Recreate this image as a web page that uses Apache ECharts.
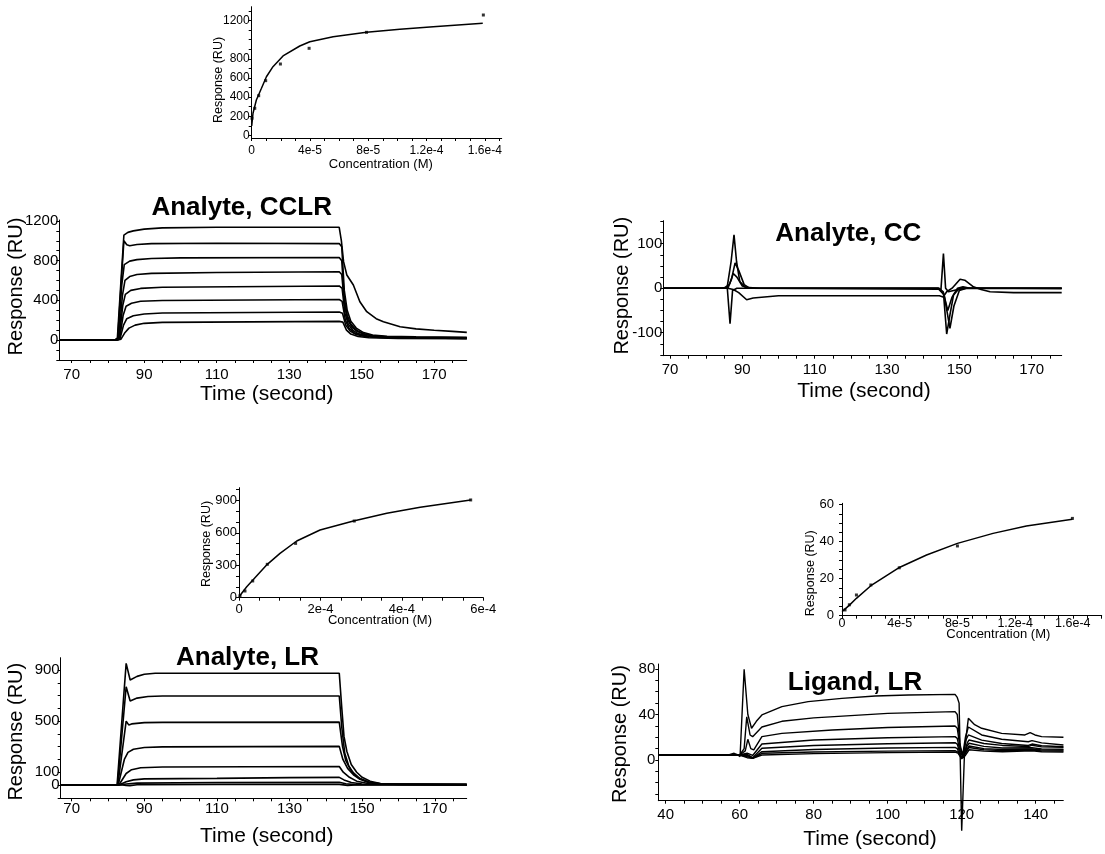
<!DOCTYPE html>
<html>
<head>
<meta charset="utf-8">
<title>SPR sensorgrams</title>
<script src="https://cdn.jsdelivr.net/npm/echarts@6/dist/echarts.min.js"></script>
<style>
  html, body { margin: 0; background: #fff; }
  #chart { width: 1105px; height: 854px; }
</style>
</head>
<body>
<div id="chart"></div>
<script>
// ---- binding isotherms (inset plots) ----
// CCLR isotherm: measured points + fitted curve
const cclrConc = [2e-7, 2.1e-6, 4.8e-6, 9.6e-6, 1.97e-5, 3.94e-5, 7.88e-5, 1.59e-4]
const cclrResp = [179, 283, 415, 572, 746, 910, 1077, 1258]
const cclrFitConc = [0, 9e-7, 3.2e-6, 6.7e-6, 1.01e-5, 1.46e-5, 2.15e-5, 3.3e-5, 3.99e-5, 5.59e-5, 7.88e-5, 1.017e-4, 1.246e-4, 1.586e-4]
const cclrFitResp = [100, 231, 370, 492, 613, 718, 830, 934, 979, 1031, 1077, 1109, 1136, 1171]

// Analyte LR isotherm
const lrConc = [2.5e-6, 1.47e-5, 3.37e-5, 6.95e-5, 1.39e-4, 2.83e-4, 5.69e-4]
const lrResp = [19, 62, 155, 309, 503, 710, 905]
const lrFitConc = [0, 1.9e-5, 6.95e-5, 1.007e-4, 1.418e-4, 1.99e-4, 2.81e-4, 3.63e-4, 4.45e-4, 5.69e-4]
const lrFitResp = [9, 102, 309, 411, 525, 627, 710, 781, 837, 905]

// Ligand LR isotherm
const ligConc = [2.1e-6, 5.1e-6, 1.0e-5, 2.0e-5, 3.97e-5, 8.0e-5, 1.597e-4]
const ligResp = [3.1, 5.9, 11.2, 16.6, 25.9, 37.7, 52.6]
const ligFitConc = [0, 5e-6, 1e-5, 2e-5, 4.01e-5, 5.86e-5, 8.0e-5, 1.047e-4, 1.278e-4, 1.597e-4]
const ligFitResp = [2.2, 5.6, 9.4, 16.2, 26.2, 32.8, 39.1, 44.5, 48.5, 52.1]

// ---- sensorgrams: [time (s), response (RU)] ----
const cclr1 = [[66.6,0],[82,0],[82.6,20],[83.6,600],[84.4,1058],[85.5,1085],[87,1100],[90,1118],[95,1130],[110,1136],[130,1136],[143.8,1136],[144.4,1000],[145,790],[145.9,655],[147.7,554],[149.5,386],[151.4,285],[154,215],[156,185],[160.6,134],[165,112],[170,99],[175,87],[179,77]]
const cclr2 = [[66.6,0],[82,0],[82.7,20],[83.7,600],[84.4,1000],[85.2,960],[86,950],[88,962],[92,972],[110,975],[143.8,972],[144.5,940],[145.2,500],[146,300],[147,190],[148.5,120],[150.5,75],[153,50],[157,38],[165,32],[179,28]]
const cclr3 = [[66.6,0],[82,0],[82.8,20],[83.8,550],[84.5,760],[86,795],[88,810],[92,822],[100,828],[143.8,832],[144.5,800],[145.2,420],[146,250],[147,160],[148.5,100],[150.5,62],[153,42],[157,30],[165,24],[179,20]]
const cclr4 = [[66.6,0],[82.2,0],[83,20],[84,450],[84.7,600],[86,640],[88,660],[92,672],[110,680],[143.8,688],[144.5,660],[145.3,340],[146.2,200],[147.3,130],[148.8,85],[151,55],[154,38],[160,28],[179,22]]
const cclr5 = [[66.6,0],[82.3,0],[83.1,15],[84.1,350],[84.8,460],[86.3,500],[89,520],[95,532],[143.8,545],[144.6,520],[145.4,270],[146.3,160],[147.5,100],[149,65],[151.5,40],[155,28],[179,18]]
const cclr6 = [[66.6,0],[82.4,0],[83.2,10],[84.2,250],[85,340],[86.5,370],[89,390],[95,398],[143.8,408],[144.6,390],[145.5,200],[146.5,120],[148,70],[150,45],[153,30],[160,22],[179,16]]
const cclr7 = [[66.6,0],[82.5,0],[83.3,10],[84.3,150],[85.2,215],[87,245],[90,262],[95,272],[143.8,282],[144.7,270],[145.6,150],[146.8,90],[148.5,55],[151,35],[155,25],[179,15]]
const cclr8 = [[66.6,0],[82.7,0],[83.6,8],[84.6,70],[85.8,120],[87.5,150],[90,168],[95,178],[143.8,188],[144.8,180],[145.8,100],[147,60],[149,35],[152,22],[160,15],[179,12]]

const cc1 = [[68.2,0],[84,0],[85.8,2],[86.9,60],[87.7,120],[88.4,60],[89.3,15],[90.8,2],[95,0],[144.3,0],[144.9,-5],[145.6,78],[146.2,0],[147,-8],[149,-4],[152,0],[178.3,0]]
const cc2 = [[68.2,0],[85,0],[85.8,5],[86.6,-80],[87.3,-5],[88.5,0],[144.3,0],[145.6,-10],[146.5,-103],[147.4,-60],[148.4,-15],[150,0],[178.3,0]]
const cc3 = [[68.2,0],[86,0],[87,20],[88,57],[89,40],[90.5,8],[92,0],[144.3,-2],[145.8,-15],[147.4,-90],[148.5,-40],[150,-5],[152,0],[178.3,-1]]
const cc4 = [[68.2,0],[85.5,0],[86.5,10],[87.5,33],[88.5,25],[90,5],[92,0],[144,0],[145.5,-8],[146.8,-50],[148,-20],[149.5,0],[151,3],[153,0],[178.3,0]]
const cc5 = [[68.2,0],[86,0],[87.5,-3],[89,-10],[91.2,-26],[93,-22],[100,-17],[144.5,-17],[145.5,-20],[146.5,-8],[148,0],[150.2,20],[151.5,18],[153.9,3],[156,-3],[158.5,-8],[165,-10],[178.3,-10]]

const lr1 = [[67,0],[82.5,0],[85,952],[86.1,822],[88,850],[90,866],[93,874],[143.7,874],[144.4,600],[145,380],[145.8,262],[147,160],[148.5,100],[150,60],[152.2,30],[155,12],[160,5],[178.8,4]]
const lr2 = [[67,0],[82.6,0],[85,769],[86.1,657],[88,680],[91,692],[95,696],[143.7,696],[144.4,450],[145.2,250],[146.3,150],[147.6,95],[149.4,50],[152,20],[156,8],[178.8,4]]
const lr3 = [[67,0],[82.7,0],[85,500],[85.7,470],[86.5,478],[90,488],[95,490],[143.7,492],[144.6,300],[145.5,190],[147,110],[149,55],[152,20],[156,6],[178.8,3]]
const lr4 = [[67,0],[82.8,0],[84.5,200],[85.5,255],[87,280],[90,293],[95,298],[120,300],[143.7,302],[144.7,200],[146,130],[147.6,80],[149.4,45],[152,18],[156,6],[178.8,3]]
const lr5 = [[67,0],[83,0],[85,90],[86.5,120],[89,135],[95,141],[143.7,145],[144.8,100],[146.5,60],[148.5,30],[152,10],[178.8,3]]
const lr6 = [[67,0],[83,0],[85,25],[87,40],[90,48],[110,52],[130,58],[143.7,60],[145,40],[147,20],[150,8],[178.8,3]]
const lr7 = [[67,0],[83,0],[85,8],[88,15],[110,20],[143.7,22],[145.5,10],[148,3],[178.8,2]]
const lr8 = [[67,0],[84,0],[85,-3],[86,-5],[88,2],[110,5],[143.7,5],[146,-3],[148,0],[178.8,0]]

const lig1 = [[38,4.4],[57,4.4],[58.5,5.9],[59.5,4.4],[60.1,3],[61.2,79.7],[62.2,40],[63.2,27.9],[64.5,34],[66,39.6],[71.4,46.9],[78.5,51.3],[87.6,54.2],[96.6,56.3],[105.6,57.1],[118.2,57.7],[118.8,55],[119.3,50],[120,-62.2],[120.8,10],[121.8,36.6],[123.5,31],[125.4,27.9],[130.8,23.4],[137.1,22],[138.5,24],[139.8,22],[141.6,20.5],[147.5,20]]
const lig2 = [[38,4.4],[60,4.4],[61.2,10],[61.9,38],[62.8,22],[63.5,20.5],[66,29],[71.4,34],[80,37],[90,39],[100,41],[118.2,42.5],[118.8,40],[119.5,15],[120.2,3],[121,20],[121.8,29],[125.4,22],[130.8,18.2],[138,16],[139,17],[141.6,15],[147.5,13.2]]
const lig3 = [[38,4.4],[60,4.4],[61.5,8],[62.2,18.2],[63,10],[63.8,8.8],[66,20.5],[71.4,23.4],[85,26.4],[100,28.5],[118.2,29.9],[118.8,28],[119.5,12],[120.3,5],[121.2,18],[121.8,22],[125.4,17.5],[130.8,14.5],[138,12.8],[139,14],[141.6,12.5],[147.5,11.7]]
const lig4 = [[38,4.4],[60,4.4],[62,6],[63.5,4],[66,14.1],[80,17.6],[100,19.5],[118.2,20.5],[118.8,19],[119.5,8],[120.5,4],[121.5,15],[122,17.6],[126,14.5],[131,12.8],[138,11.8],[139,13],[141.6,11.5],[147.5,11.1]]
const lig5 = [[38,4.4],[60,4.4],[62,5],[63.5,2],[66,10.3],[80,12.8],[100,14.3],[118.2,15.2],[118.8,14],[119.5,6],[120.5,3],[121.5,12.5],[122,14.7],[126,12],[131,10.5],[139,10.8],[141.6,9.8],[147.5,9.4]]
const lig6 = [[38,4.4],[60,4.4],[62,4],[63.5,1.5],[66,7.3],[80,9.2],[100,10.5],[118.2,11.1],[118.8,10],[119.5,4],[120.5,2],[121.5,10],[122,12.3],[126,10],[131,9.2],[139,9.6],[141.6,8.9],[147.5,8.8]]
const lig7 = [[38,4.4],[60,4.4],[62,3],[63.5,1.5],[66,5.9],[80,7],[100,7.8],[118.2,8.2],[119,7],[120,2],[121,6],[122,11],[126,9],[131,8.2],[139,8.8],[141.6,8],[147.5,7.9]]
const lig8 = [[38,4.4],[60,4.4],[62,2],[63.5,1.5],[66,4.4],[80,5.6],[100,6.5],[118.2,7],[119,6],[120,1],[121,4],[122,9],[126,7.8],[131,7.2],[139,8],[141.6,7.2],[147.5,7]]

// ---- tick labels ----
const isoXLabels = [0, 4e-5, 8e-5, 1.2e-4, 1.6e-4]
const lrIsoXLabels = [0, 2e-4, 4e-4, 6e-4]
const timeLabels = [70, 90, 110, 130, 150, 170]
const ligTimeLabels = [40, 60, 80, 100, 120, 140]
const cclrIsoYLabels = [0, 200, 400, 600, 800, 1200]
const cclrYLabels = [0, 400, 800, 1200]
const ccYLabels = [-100, 0, 100]
const lrIsoYLabels = [0, 300, 600, 900]
const lrYLabels = [0, 100, 500, 900]
const ligIsoYLabels = [0, 20, 40, 60]
const ligYLabels = [0, 40, 80]

const FONT = '"Liberation Sans", Arial, Helvetica, sans-serif'

// minor tick positions
function steps (a, b, d) {
  const out = []
  for (let i = 0; a + i * d <= b + d * 1e-6; i++) out.push(+(a + i * d).toPrecision(10))
  return out
}
function zip (xs, ys) {
  return xs.map((x, i) => [x, ys[i]])
}
function sci (v) {
  return v === 0 ? '0' : v.toExponential()
}

// plot areas (px), one per panel
const grids = [
  { left: 251.7, top: 6.7, width: 250, height: 131.3 },
  { left: 59.3, top: 220, width: 407.4, height: 140 },
  { left: 663.3, top: 220.7, width: 398.4, height: 135 },
  { left: 239, top: 487.7, width: 244.3, height: 110 },
  { left: 60.7, top: 657.7, width: 406, height: 140.6 },
  { left: 842, top: 503.3, width: 259.7, height: 112.4 },
  { left: 658.3, top: 664, width: 405, height: 136.7 }
].map(g => Object.assign({ containLabel: false, outerBoundsMode: 'none' }, g))

function axis (idx, min, max, labels, ticks, fontSize, margin, fmt) {
  return {
    type: 'value',
    gridIndex: idx,
    min: min,
    max: max,
    splitLine: { show: false },
    axisLine: { show: true, onZero: false, lineStyle: { color: '#000', width: 1 } },
    axisTick: { show: true, customValues: ticks, length: 3, lineStyle: { color: '#000', width: 1 } },
    axisLabel: {
      customValues: labels,
      hideOverlap: false,
      color: '#000',
      fontFamily: FONT,
      fontSize: fontSize,
      margin: margin,
      formatter: fmt || (v => String(v))
    }
  }
}

const xAxes = [
  axis(0, 0, 1.716e-4, isoXLabels, steps(0, 1.7e-4, 1e-5), 12, 7, sci),
  axis(1, 66.58, 178.97, timeLabels, steps(70, 175, 5), 15, 7),
  axis(2, 68.15, 178.3, timeLabels, steps(70, 175, 5), 15, 7),
  axis(3, 0, 6e-4, lrIsoXLabels, steps(0, 6e-4, 5e-5), 13, 5, sci),
  axis(4, 66.97, 178.8, timeLabels, steps(70, 175, 5), 15, 3),
  axis(5, 0, 1.8e-4, isoXLabels, steps(0, 1.8e-4, 1e-5), 12.5, 1, sci),
  axis(6, 38, 147.46, ligTimeLabels, steps(40, 145, 5), 15, 7)
]
const yAxes = [
  axis(0, -27.2, 1344.8, cclrIsoYLabels, steps(0, 1300, 100), 12, 2),
  axis(1, -201.6, 1209.7, cclrYLabels, steps(-200, 1200, 100), 15, 1),
  axis(2, -151.7, 151.7, ccYLabels, steps(-150, 150, 25), 15, 1),
  axis(3, 0, 1018.5, lrIsoYLabels, steps(0, 1000, 100), 13, 2),
  axis(4, -104.1, 996.1, lrYLabels.slice(1), steps(-100, 900, 100), 15, 1),
  axis(5, 0, 60.76, ligIsoYLabels, steps(0, 60, 5), 13, 8),
  axis(6, -35.8, 84.4, ligYLabels, steps(-30, 80, 10), 15, 3)
]
yAxes.forEach(a => { a.position = 'left' })
// the "0" label of the Analyte LR panel sits right under "100"; a label-only
// twin axis keeps ECharts from dropping one of them as overlapping
const lrZeroAxis = axis(4, -104.1, 996.1, lrYLabels.slice(0, 1), [], 15, 1)
lrZeroAxis.position = 'left'
lrZeroAxis.offset = 0
lrZeroAxis.axisLine.show = false
lrZeroAxis.axisTick.show = false
yAxes.push(lrZeroAxis)

function curve (data, idx, width) {
  return {
    type: 'line',
    xAxisIndex: idx,
    yAxisIndex: idx,
    data: data,
    symbol: 'none',
    showSymbol: false,
    clip: false,
    silent: true,
    lineStyle: { color: '#000', width: width || 1.6 }
  }
}
function points (data, idx) {
  return {
    type: 'scatter',
    xAxisIndex: idx,
    yAxisIndex: idx,
    data: data,
    symbol: 'rect',
    symbolSize: 3,
    silent: true,
    itemStyle: { color: '#000' }
  }
}

const series = [
  curve(zip(cclrFitConc, cclrFitResp), 0, 1.5),
  points(zip(cclrConc, cclrResp), 0),
  curve(zip(lrFitConc, lrFitResp), 3, 1.5),
  points(zip(lrConc, lrResp), 3),
  curve(zip(ligFitConc, ligFitResp), 5, 1.5),
  points(zip(ligConc, ligResp), 5)
]
;[cclr1, cclr2, cclr3, cclr4, cclr5, cclr6, cclr7, cclr8].forEach(d => series.push(curve(d, 1)))
;[cc1, cc2, cc3, cc4, cc5].forEach(d => series.push(curve(d, 2)))
;[lr1, lr2, lr3, lr4, lr5, lr6, lr7, lr8].forEach(d => series.push(curve(d, 4)))
;[lig1, lig2, lig3, lig4, lig5, lig6, lig7, lig8].forEach(d => series.push(curve(d, 6, 1.4)))

function label (text, x, y, size, opts) {
  opts = opts || {}
  return {
    type: 'text',
    x: x,
    y: y,
    rotation: opts.vertical ? Math.PI / 2 : 0,
    silent: true,
    style: {
      text: text,
      font: (opts.bold ? 'bold ' : '') + size + 'px ' + FONT,
      fill: '#000',
      textAlign: 'center',
      textVerticalAlign: 'middle'
    }
  }
}

const texts = [
  label('Analyte, CCLR', 241.7, 208.3, 26, { bold: true }),
  label('Analyte, CC', 848.3, 234, 26, { bold: true }),
  label('Analyte, LR', 247.5, 657.5, 26, { bold: true }),
  label('Ligand, LR', 855, 682.5, 26, { bold: true }),
  label('Response (RU)', 219, 80, 12.5, { vertical: true }),
  label('Concentration (M)', 380.8, 164, 13),
  label('Response (RU)', 16.7, 286.5, 20, { vertical: true }),
  label('Time (second)', 266.7, 394, 21),
  label('Response (RU)', 622.5, 285.7, 20, { vertical: true }),
  label('Time (second)', 864, 391.7, 21),
  label('Response (RU)', 206.7, 544, 12.5, { vertical: true }),
  label('Concentration (M)', 380, 620, 13),
  label('Response (RU)', 16.7, 731.7, 20, { vertical: true }),
  label('Time (second)', 266.7, 835.8, 21),
  label('Response (RU)', 811, 573.3, 12.5, { vertical: true }),
  label('Concentration (M)', 998.3, 634, 13),
  label('Response (RU)', 620, 734, 20, { vertical: true }),
  label('Time (second)', 870, 839, 21)
]

const chart = echarts.init(document.getElementById('chart'))
chart.setOption({
  animation: false,
  backgroundColor: '#fff',
  textStyle: { fontFamily: FONT },
  grid: grids,
  xAxis: xAxes,
  yAxis: yAxes,
  series: series,
  graphic: texts
})
</script>
</body>
</html>
